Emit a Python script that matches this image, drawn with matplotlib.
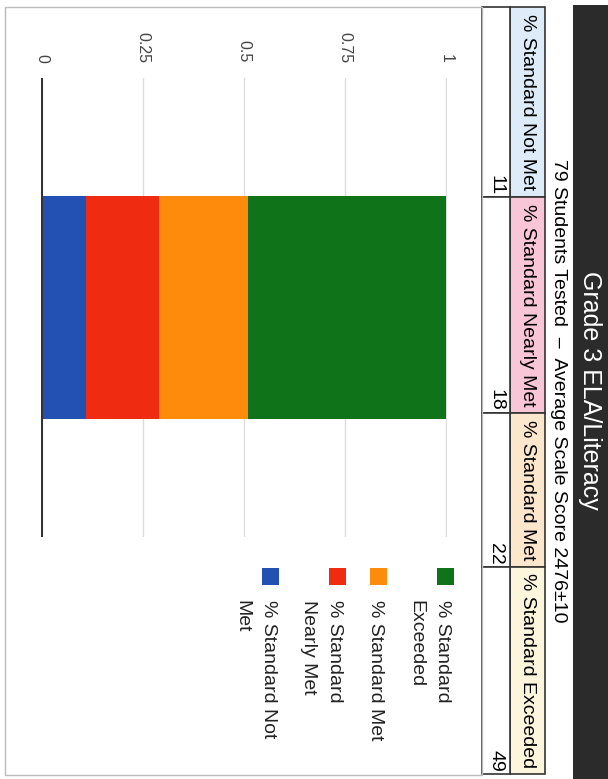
import numpy as np
import matplotlib.pyplot as plt
from matplotlib.patches import Rectangle

plt.rcParams['font.family'] = ['Liberation Sans', 'DejaVu Sans']

title = "Grade 3 ELA/Literacy"
subtitle = "79 Students Tested  \u2013  Average Scale Score 2476\u00b110"
levels = ["% Standard Not Met", "% Standard Nearly Met", "% Standard Met", "% Standard Exceeded"]
percents = [11, 18, 22, 49]
legend_labels = ["% Standard Not\nMet", "% Standard\nNearly Met", "% Standard Met", "% Standard\nExceeded"]
bar_colors = ["#2350b3", "#ef2b12", "#ff8b0c", "#0f7419"]
header_colors = ["#ddecf8", "#f9c6d8", "#fde7cc", "#fdf6dc"]
ticks = [0, 0.25, 0.5, 0.75, 1]
tick_labels = ["0", "0.25", "0.5", "0.75", "1"]

W, H = 608, 779
fig = plt.figure(figsize=(W / 100, H / 100), dpi=100)

# the whole page is turned a quarter clockwise, so everything is drawn rotated
# background axes in pixels, y counted from the top
bg = fig.add_axes([0, 0, 1, 1])
bg.set_xlim(0, W)
bg.set_ylim(H, 0)
bg.axis('off')

# dark title band + subtitle
bg.add_patch(Rectangle((573, 5), 35, 774, color="#2b2b2b", lw=0))
bg.text(590, 390, title, rotation=-90, ha='center', va='center', color='white', fontsize=18)
bg.text(558, 391, subtitle, rotation=-90, ha='center', va='center', color='black', fontsize=14)

# table: header row and value row
edges = [7, 197, 413, 567, 774]
for i in range(len(levels)):
    y0, y1 = edges[i], edges[i + 1]
    bg.add_patch(Rectangle((510, y0), 35, y1 - y0, facecolor=header_colors[i], edgecolor="#333333", lw=1.2))
    bg.add_patch(Rectangle((482, y0), 28, y1 - y0, facecolor='white', edgecolor="#333333", lw=1.2))
    bg.text(527.5, (y0 + y1) / 2, levels[i], rotation=-90, ha='center', va='center', fontsize=14)
    bg.text(496, y1 - 2, str(percents[i]), rotation=-90, ha='center', va='bottom', fontsize=14)

# chart frame
bg.add_patch(Rectangle((5, 7), 477, 768, fill=False, edgecolor="#bbbbbb", lw=1))

# legend (top item is Exceeded), one text per wrapped line
lx = 445
for i in reversed(range(len(percents))):
    bg.add_patch(Rectangle((lx - 8.5, 567.5), 17, 17, color=bar_colors[i], lw=0))
    lines = legend_labels[i].split("\n")
    for j, line in enumerate(lines):
        # baseline sits half a cap-height left of the swatch centre
        bg.text(lx - 7 - j * 26.5, 600, line, rotation=-90, rotation_mode='anchor',
                ha='left', va='baseline', fontsize=14, color='#222222')
    lx -= len(lines) * 26.5 + 14

# the stacked bar itself
ax = fig.add_axes([41 / W, 1 - 537 / H, (447 - 41) / W, (537 - 78) / H])
ax.set_facecolor('none')
lefts = np.concatenate([[0], np.cumsum(percents)[:-1]]) / 100
for i in range(len(percents)):
    ax.barh(0, percents[i] / 100, left=lefts[i], height=0.486, color=bar_colors[i], lw=0, zorder=3)
ax.set_xlim(-0.002, 1.002)
ax.set_ylim(-0.5, 0.5)
for t in ticks[1:]:
    ax.axvline(t, color="#dddddd", lw=1, zorder=1)
ax.axvline(0, color="#333333", lw=1.5, zorder=4)
ax.set_xticks(ticks, tick_labels)
ax.xaxis.tick_top()
ax.tick_params(axis='x', length=0, pad=11, labelrotation=-90, labelsize=11.5, labelcolor='#444444')
ax.set_yticks([])
for s in ax.spines.values():
    s.set_visible(False)

fig.savefig("out.png", dpi=100)
